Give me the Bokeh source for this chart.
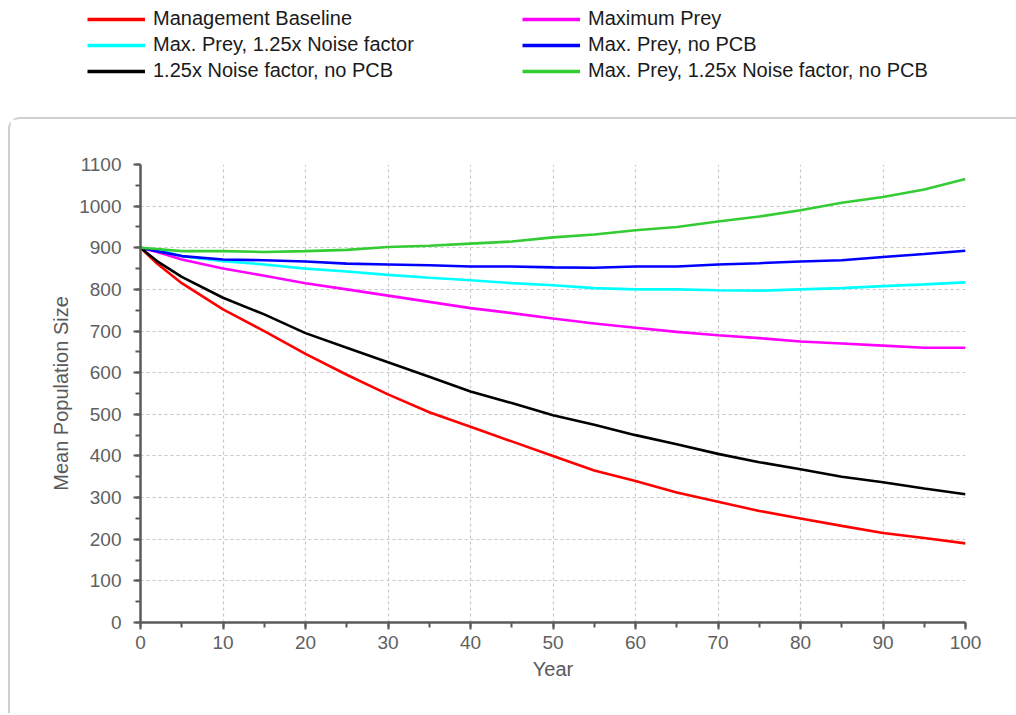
from bokeh.plotting import figure
from bokeh.layouts import column
from bokeh.models import Legend, LegendItem, FixedTicker
from bokeh.embed import file_html
from bokeh.resources import INLINE

# Simulated mean population size by year for each management scenario
years = [0, 2, 5, 10, 15, 20, 25, 30, 35, 40, 45, 50, 55, 60, 65, 70, 75, 80, 85, 90, 95, 100]

baseline = [900, 862, 815, 752, 700, 645, 595, 548, 505, 470, 435, 400, 365, 340, 312, 290, 268, 250, 232, 215, 203, 190]
max_prey = [900, 890, 872, 850, 833, 815, 800, 785, 770, 755, 743, 730, 718, 708, 698, 690, 683, 675, 670, 665, 660, 660]
max_prey_noise = [900, 895, 880, 868, 860, 850, 843, 835, 828, 822, 815, 810, 803, 800, 800, 798, 797, 800, 803, 808, 812, 817]
max_prey_no_pcb = [900, 892, 880, 872, 870, 867, 862, 860, 858, 855, 855, 853, 852, 855, 855, 860, 863, 867, 870, 878, 885, 893]
noise_no_pcb = [900, 868, 830, 780, 740, 695, 660, 625, 590, 555, 527, 498, 475, 450, 428, 405, 385, 368, 350, 337, 322, 308]
max_prey_noise_no_pcb = [900, 897, 892, 892, 890, 892, 895, 902, 905, 910, 915, 925, 932, 942, 950, 963, 975, 990, 1008, 1022, 1040, 1065]

series_names = [
    "Management Baseline",
    "Maximum Prey",
    "Max. Prey, 1.25x Noise factor",
    "Max. Prey, no PCB",
    "1.25x Noise factor, no PCB",
    "Max. Prey, 1.25x Noise factor, no PCB",
]
series_values = [baseline, max_prey, max_prey_noise, max_prey_no_pcb, noise_no_pcb, max_prey_noise_no_pcb]
series_colors = ["#ff0000", "#ff00ff", "#00ffff", "#0000ff", "#000000", "#33cc33"]

x_ticks = list(range(0, 101, 10))
y_ticks = list(range(0, 1101, 100))

FONT = "Liberation Sans"
LINE_W = 2.6

# ---- Legend strip across the top ----
# Its frame spans the whole strip; the series lines fall outside its y-range,
# so only the legend entries are visible here.
top = figure(
    width=1016, height=117,
    x_range=(0, 100), y_range=(0, 100),
    output_backend="svg", toolbar_location=None,
    min_border=0, min_border_left=0, min_border_right=0,
    min_border_top=0, min_border_bottom=0,
    outline_line_color=None, border_fill_color="white",
)
top.frame_align = False
top.axis.visible = False
top.grid.visible = False

legend_renderers = [
    top.line(years, vals, line_color=col, line_width=3.4)
    for vals, col in zip(series_values, series_colors)
]

def make_legend(idx, x_off):
    return Legend(
        items=[LegendItem(label=series_names[i], renderers=[legend_renderers[i]]) for i in idx],
        location=(x_off, 35),
        orientation="vertical",
        glyph_width=58, glyph_height=20, label_height=20,
        label_standoff=8, spacing=3, padding=0, margin=0,
        label_text_font=FONT, label_text_font_size="20px",
        label_text_color="#1a1a1a",
        border_line_alpha=0, background_fill_alpha=0,
    )

top.add_layout(make_legend([0, 2, 4], 87))
top.add_layout(make_legend([1, 3, 5], 522))

# ---- Main chart inside a rounded panel ----
p = figure(
    width=1008, height=596,
    x_range=(0, 100), y_range=(0, 1100),
    output_backend="svg", toolbar_location=None,
    min_border_left=130, min_border_right=53,
    min_border_top=45, min_border_bottom=93,
    outline_line_color=None,
    background_fill_color="white", border_fill_color="white",
    margin=(0, 0, 0, 8),
    styles={
        "border-top": "2px solid #cfcfcf",
        "border-left": "2px solid #cfcfcf",
        "border-top-left-radius": "12px",
    },
)
p.frame_align = False

for vals, col in zip(series_values, series_colors):
    p.line(years, vals, line_color=col, line_width=LINE_W)

p.xaxis.ticker = FixedTicker(ticks=x_ticks, minor_ticks=list(range(0, 101, 5)))
p.yaxis.ticker = FixedTicker(ticks=y_ticks, minor_ticks=list(range(0, 1101, 50)))
for ax in (p.xaxis, p.yaxis):
    ax.axis_line_color = "#5a5a5a"
    ax.axis_line_width = 2.5
    ax.major_tick_line_color = "#5a5a5a"
    ax.major_tick_line_width = 2
    ax.minor_tick_line_color = "#5a5a5a"
    ax.minor_tick_line_width = 2
    ax.major_tick_in = 0
    ax.major_tick_out = 7
    ax.minor_tick_in = 0
    ax.minor_tick_out = 5
    ax.major_label_text_font = FONT
    ax.major_label_text_font_size = "19px"
    ax.major_label_text_color = "#606060"
    ax.axis_label_text_font = FONT
    ax.axis_label_text_font_size = "20px"
    ax.axis_label_text_font_style = "normal"
    ax.axis_label_text_color = "#595959"

p.xaxis.axis_label = "Year"
p.yaxis.axis_label = "Mean Population Size"
p.xaxis.major_label_standoff = 6
p.yaxis.major_label_standoff = 12
p.xaxis.axis_label_standoff = 6
p.yaxis.axis_label_standoff = 4

for g in (p.xgrid, p.ygrid):
    g.grid_line_color = "#c8c8c8"
    g.grid_line_dash = "3 3"
    g.grid_line_width = 1.2
p.xgrid.ticker = FixedTicker(ticks=x_ticks)
p.ygrid.ticker = FixedTicker(ticks=y_ticks)

layout = column(top, p, spacing=0)

open("out.html", "w").write(file_html(layout, INLINE))
